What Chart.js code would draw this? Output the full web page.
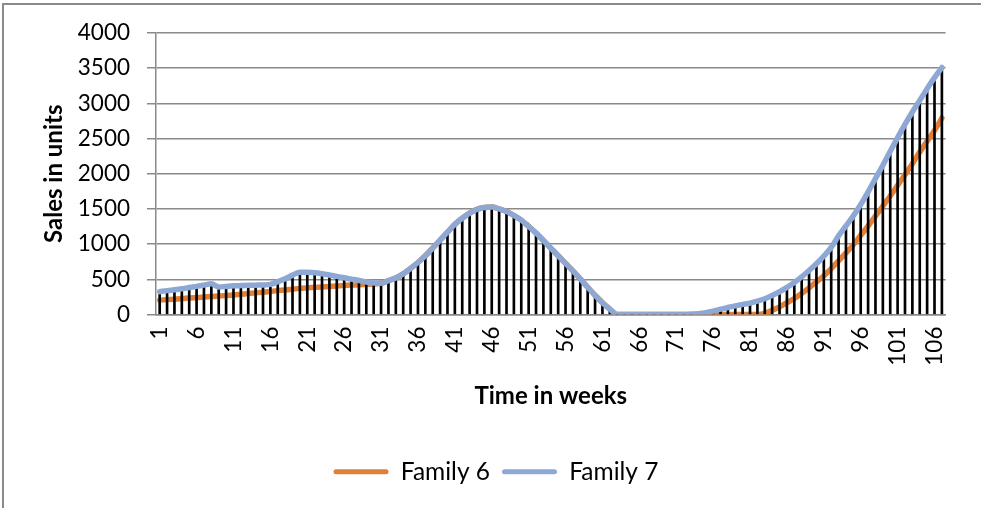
<!DOCTYPE html>
<html lang="en">
  <head>
    <meta charset="UTF-8" />
    <title>Family 6 / Family 7 sales</title>
    <script src="https://cdn.jsdelivr.net/npm/chart.js@4.4.1/dist/chart.umd.min.js"></script>
    <style>
      html,
      body {
        margin: 0;
        padding: 0;
        background: #fff;
        overflow: hidden;
      }
      #frame {
        position: absolute;
        left: 2px;
        top: 3px;
        width: 2000px;
        height: 2000px;
        border: 2px solid #8a8a8a;
      }
      #myChart {
        position: absolute;
        left: 0;
        top: 0;
      }
    </style>
  </head>
  <body>
    <div id="frame"></div>
    <canvas id="myChart" width="981" height="508"></canvas>
    <script>
      // weeks 1..107
      const weeks = [];
      for (let w = 1; w <= 107; w++) weeks.push(String(w));

      const family6 = [
        205, 212, 219, 226, 234, 241, 248, 256, 263, 270,
        278, 288, 298, 308, 318, 329, 340, 350, 361, 372,
        379, 386, 393, 400, 407, 413, 419, 424, 430, 436,
        446, 482, 520, 578, 655, 740, 835, 944, 1056, 1170,
        1282, 1368, 1440, 1496, 1522, 1528, 1500, 1465, 1408, 1342,
        1252, 1158, 1052, 944, 835, 728, 620, 506, 388, 274,
        168, 78, 0, 0, 0, 0, 0, 0, 0, 0,
        0, 0, 0, 0, 0, 0, 0, 0, 0, 0,
        0, 0, 15, 61, 109, 170, 227, 298, 378, 464,
        549, 653, 762, 875, 993, 1126, 1258, 1400, 1542, 1684,
        1835, 1987, 2143, 2308, 2464, 2616, 2790,
      ];

      const family7 = [
        325, 340, 352, 366, 384, 400, 418, 436, 392, 400,
        408, 412, 416, 418, 420, 428, 466, 508, 560, 602,
        600, 594, 580, 562, 542, 522, 503, 484, 462, 448,
        446, 482, 520, 578, 655, 740, 835, 944, 1056, 1170,
        1282, 1368, 1440, 1496, 1522, 1528, 1500, 1465, 1408, 1342,
        1252, 1158, 1052, 944, 835, 728, 620, 506, 388, 274,
        168, 78, 0, 0, 0, 0, 0, 0, 0, 0,
        0, 0, 5, 12, 26, 48, 76, 100, 124, 144,
        163, 190, 224, 272, 324, 385, 456, 536, 626, 721,
        830, 953, 1118, 1260, 1402, 1563, 1743, 1932, 2121, 2320,
        2514, 2703, 2878, 3043, 3209, 3365, 3510,
      ];

      const gridColor = "#8a8a8a";
      const tickFont = { family: "Lato", size: 22.5 };
      const titleFont = { family: "Lato", size: 24, weight: "bold" };

      const ctx = document.getElementById("myChart").getContext("2d");
      const myChart = new Chart(ctx, {
        type: "line",
        data: {
          labels: weeks,
          datasets: [
            {
              label: "Family 6",
              data: family6,
              borderColor: "#E07F38",
              backgroundColor: "#E07F38",
              borderWidth: 5.5,
              pointRadius: 0,
              cubicInterpolationMode: "monotone",
              borderCapStyle: "round",
              borderJoinStyle: "round",
              order: 2,
            },
            {
              label: "Family 7",
              data: family7,
              borderColor: "#8EA8D6",
              backgroundColor: "#8EA8D6",
              borderWidth: 5.5,
              pointRadius: 0,
              cubicInterpolationMode: "monotone",
              borderCapStyle: "round",
              borderJoinStyle: "round",
              order: 0,
            },
            {
              // drop lines
              type: "bar",
              label: "drop",
              data: family7,
              backgroundColor: "#000",
              barThickness: 2,
              order: 1,
            },
          ],
        },
        options: {
          responsive: false,
          animation: false,
          devicePixelRatio: 1,
          layout: { padding: { top: 33, right: 25, bottom: 14, left: 36 } },
          scales: {
            x: {
              offset: true,
              grid: { display: false, drawTicks: false },
              border: { display: true, color: gridColor, width: 1.5 },
              ticks: {
                autoSkip: false,
                minRotation: 90,
                maxRotation: 90,
                padding: 12,
                color: "#000",
                font: tickFont,
                callback: (val, i) => (i % 5 === 0 ? weeks[i] : ""),
              },
              title: {
                display: true,
                text: "Time in weeks",
                color: "#000",
                font: titleFont,
                padding: { top: 4.5, bottom: 36.5 },
              },
            },
            y: {
              min: 0,
              max: 4000,
              afterFit: (scale) => {
                scale.width = 120;
              },
              grid: { color: gridColor, lineWidth: 1.5, tickLength: 9 },
              border: { display: true, color: gridColor, width: 1.5 },
              ticks: {
                stepSize: 500,
                padding: 17,
                color: "#000",
                font: tickFont,
                callback: (v) => String(v),
              },
              title: {
                display: true,
                text: "Sales in units",
                color: "#000",
                font: titleFont,
                padding: { top: 4, bottom: 10 },
              },
            },
          },
          plugins: {
            tooltip: { enabled: false },
            legend: {
              position: "bottom",
              labels: {
                color: "#000",
                font: { family: "Lato", size: 24.5 },
                boxWidth: 55,
                boxHeight: 5,
                padding: 12,
                useBorderRadius: true,
                borderRadius: 2.5,
                sort: (a, b) => a.datasetIndex - b.datasetIndex,
                generateLabels: (chart) =>
                  Chart.defaults.plugins.legend.labels
                    .generateLabels(chart)
                    .filter((l) => l.datasetIndex !== 2)
                    .map((l) => ({ ...l, fillStyle: l.strokeStyle, lineWidth: 0 })),
              },
            },
          },
        },
      });
    </script>
  </body>
</html>
